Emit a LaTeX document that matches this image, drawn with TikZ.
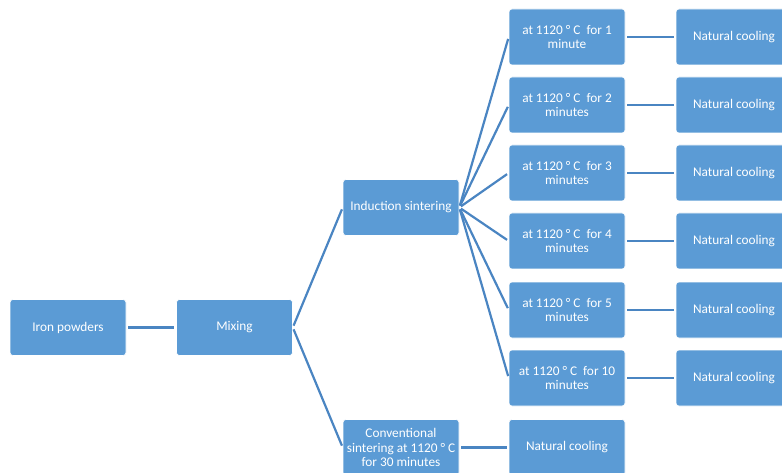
\documentclass[tikz,border=0pt]{standalone}
\usepackage{fontspec}
\setmainfont{Carlito}
\definecolor{boxblue}{HTML}{5B9BD5}
\definecolor{linkblue}{HTML}{4A85C2}
\begin{document}
\begin{tikzpicture}[x=1pt,y=-1pt,
  box/.style={draw=white,line width=0.6pt,fill=boxblue,rounded corners=3pt,
    minimum width=116pt,minimum height=56pt,inner sep=1pt,align=center,
    text=white,font=\fontsize{13.3}{14.6}\selectfont},
  link/.style={draw=linkblue,line width=2.2pt,shorten <=2pt,shorten >=2pt}]
\useasboundingbox (0,0) rectangle (782,473);
\clip (0,0) rectangle (782,473);
\fill[white] (0,0) rectangle (782,473);
\node[box] (iron) at (68,327.5) {Iron powders};
\node[box] (mix) at (234.5,327.5) {Mixing};
\node[box] (ind) at (401,207.5) {Induction sintering};
\node[box] (conv) at (401,447.5) {Conventional\\sintering at 1120 ° C\\for 30 minutes};
\node[box] (ncc) at (567,447.5) {Natural cooling};
\foreach \i/\t/\y in {1/{1\\minute}/37,2/{2\\minutes}/105,3/{3\\minutes}/173,4/{4\\minutes}/241,5/{5\\minutes}/310,6/{10\\minutes}/378}{
  \node[box] (t\i) at (567,\y) {at 1120 ° C\ \ for \t};
  \node[box] (n\i) at (734,\y) {Natural cooling};
  \draw[link] (t\i.east) -- (n\i.west);
  \draw[link] (ind.east) -- (t\i.west);
}
\draw[link] (iron) -- (mix);
\draw[link] (mix.east) -- (ind.west);
\draw[link] (mix.east) -- (conv.west);
\draw[link] (conv) -- (ncc);
\end{tikzpicture}
\end{document}
